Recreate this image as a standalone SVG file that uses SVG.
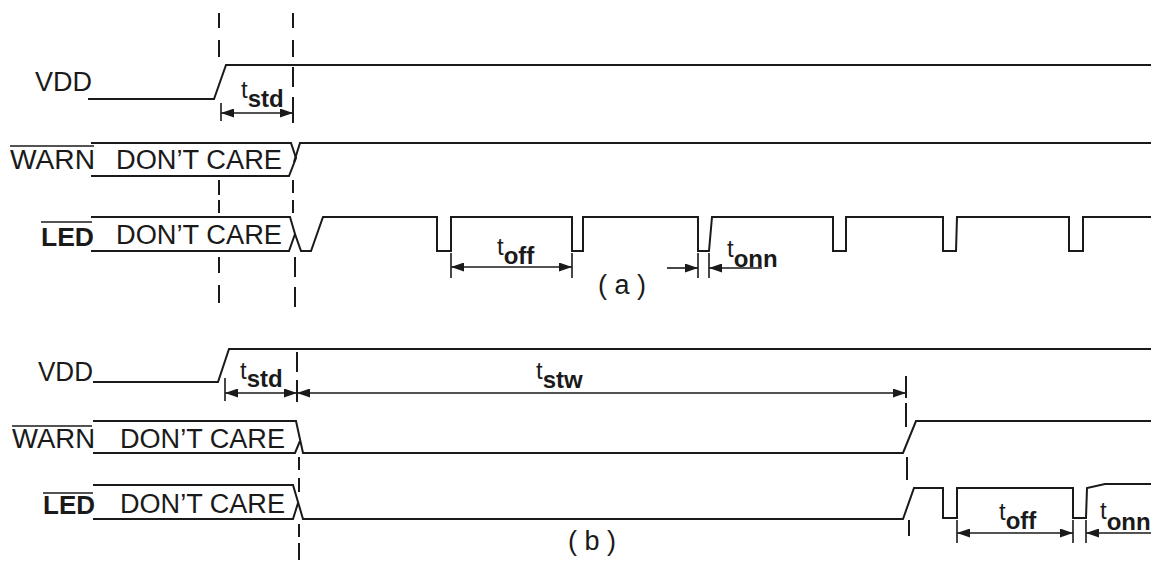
<svg xmlns="http://www.w3.org/2000/svg" width="1151" height="563" viewBox="0 0 1151 563">
<style>
.sig{fill:none;stroke:#1a1a1a;stroke-width:2;stroke-linejoin:miter}
.dim{fill:none;stroke:#1a1a1a;stroke-width:1.6}
.dash{fill:none;stroke:#1a1a1a;stroke-width:2}
.lbl{font-family:"Liberation Sans",Arial,sans-serif;font-size:27px;fill:#1a1a1a}
.led{font-family:"Liberation Sans",Arial,sans-serif;font-size:25px;font-weight:bold;fill:#1a1a1a}
.t{font-family:"Liberation Sans",Arial,sans-serif;font-size:24px;fill:#1a1a1a}
.sub{font-weight:bold}
.ov{stroke:#1a1a1a;stroke-width:1.6}
</style>
<defs>
<marker id="ah" viewBox="0 0 13 9" refX="13" refY="4.5" markerWidth="13" markerHeight="9" markerUnits="userSpaceOnUse" orient="auto-start-reverse">
<path d="M0,0 L13,4.5 L0,9 z" fill="#1a1a1a"/>
</marker>
</defs>
<rect width="1151" height="563" fill="#ffffff"/>

<!-- (a) -->
<g id="vdd-a">
<text class="lbl" x="35" y="91" textLength="57" lengthAdjust="spacingAndGlyphs">VDD</text>
<path class="sig" d="M88,99 H214 L226,65 H1151"/>
</g>
<g id="warn-a">
<text class="lbl" x="10" y="169" textLength="85" lengthAdjust="spacingAndGlyphs">WARN</text>
<line class="ov" x1="10" y1="146" x2="94" y2="146"/>
<path class="sig" d="M91,143 H291 L296,158 L289,176 H91"/>
<text class="lbl" x="116" y="169" textLength="166" lengthAdjust="spacingAndGlyphs">DON’T CARE</text>
<path class="sig" d="M294,162 L300,143 H1151"/>
</g>
<g id="led-a">
<text class="led" x="41" y="246" textLength="53" lengthAdjust="spacingAndGlyphs">LED</text>
<line class="ov" x1="41" y1="222" x2="92" y2="222"/>
<path class="sig" d="M91,217 H290 L295,234 L289,251 H91"/>
<text class="lbl" x="116" y="244" textLength="166" lengthAdjust="spacingAndGlyphs">DON’T CARE</text>
<path class="sig" d="M295,234 L301,251 H311 L323,217 H437 V251 H451 V217 H572 V251 H583 V217 H698 V251 H709 L712,217 H833 V251 H846 V217 H943 V251 H956 L957,217 H1069 V251 H1083 V217 H1151"/>
</g>
<text id="cap-a" class="lbl" x="598" y="294" font-size="26">( a )</text>

<!-- (b) -->
<g id="vdd-b">
<text class="lbl" x="38" y="381" textLength="55" lengthAdjust="spacingAndGlyphs">VDD</text>
<path class="sig" d="M93,382 H218 L229,349 H1151"/>
</g>
<g id="warn-b">
<text class="lbl" x="12" y="448" textLength="83" lengthAdjust="spacingAndGlyphs">WARN</text>
<line class="ov" x1="12" y1="426" x2="92" y2="426"/>
<path class="sig" d="M93,421 H296 L303,453 H903 L916,421 H1151"/>
<path class="sig" d="M93,453 H295 L300,441"/>
<text class="lbl" x="120" y="448" textLength="165" lengthAdjust="spacingAndGlyphs">DON’T CARE</text>
</g>
<g id="led-b">
<text class="led" x="43" y="514" textLength="52" lengthAdjust="spacingAndGlyphs">LED</text>
<line class="ov" x1="43" y1="493" x2="93" y2="493"/>
<path class="sig" d="M93,485 H293 L303,519 H903 L914,488 H943 V518 H957 V488 H1073 V518 H1086 L1087,488 L1105,484 H1151"/>
<path class="sig" d="M93,519 H293 L298,503"/>
<text class="lbl" x="120" y="513" textLength="165" lengthAdjust="spacingAndGlyphs">DON’T CARE</text>
</g>
<text id="cap-b" class="lbl" x="568" y="550" font-size="26">( b )</text>

<g id="connectors">
<!-- dashed reference lines (a) -->
<path class="dash" d="M219,13 V28 M219,40 V57 M219,180 V195 M219,200 V213 M219,257 V273 M219,285 V303"/>
<path class="dash" d="M293,13 V28 M293,40 V57 M293,67 V87 M293,97 V123 M293,180 V193 M293,200 V213 M295,257 V277 M295,287 V307"/>
<!-- dashed reference lines (b) -->
<path class="dash" d="M297,352 V372 M297,380 V402 M299,457 V470 M299,478 V492 M299,524 V537 M299,543 V560"/>
<path class="dash" d="M906,376 V398 M906,403 V427 M907,457 V480 M909,520 V536"/>

<!-- (a) tstd -->
<line class="dim" x1="221" y1="103" x2="221" y2="121"/>
<line class="dim" x1="221" y1="113" x2="293" y2="113" marker-start="url(#ah)" marker-end="url(#ah)"/>
<text class="t" x="241" y="98">t<tspan class="sub" y="107">std</tspan></text>

<!-- (a) toff -->
<line class="dim" x1="451" y1="253" x2="451" y2="278"/>
<line class="dim" x1="572" y1="253" x2="572" y2="278"/>
<line class="dim" x1="451" y1="267" x2="572" y2="267" marker-start="url(#ah)" marker-end="url(#ah)"/>
<text class="t" x="497" y="255">t<tspan class="sub" y="264">off</tspan></text>

<!-- (a) tonn -->
<line class="dim" x1="698" y1="253" x2="698" y2="278"/>
<line class="dim" x1="709" y1="253" x2="709" y2="278"/>
<line class="dim" x1="667" y1="268" x2="698" y2="268" marker-end="url(#ah)"/>
<line class="dim" x1="762" y1="268" x2="709" y2="268" marker-end="url(#ah)"/>
<text class="t" x="727" y="257">t<tspan class="sub" y="267">onn</tspan></text>

<!-- (b) tstd / tstw -->
<line class="dim" x1="225" y1="378" x2="225" y2="401"/>
<line class="dim" x1="225" y1="393" x2="297" y2="393" marker-start="url(#ah)" marker-end="url(#ah)"/>
<text class="t" x="240" y="379">t<tspan class="sub" y="387">std</tspan></text>
<line class="dim" x1="297" y1="393" x2="906" y2="393" marker-start="url(#ah)" marker-end="url(#ah)"/>
<text class="t" x="536" y="379">t<tspan class="sub" y="388">stw</tspan></text>

<!-- (b) toff -->
<line class="dim" x1="957" y1="520" x2="957" y2="543"/>
<line class="dim" x1="1073" y1="520" x2="1073" y2="543"/>
<line class="dim" x1="957" y1="533" x2="1073" y2="533" marker-start="url(#ah)" marker-end="url(#ah)"/>
<text class="t" x="999" y="520">t<tspan class="sub" y="529">off</tspan></text>

<!-- (b) tonn -->
<line class="dim" x1="1086" y1="520" x2="1086" y2="543"/>
<line class="dim" x1="1151" y1="533" x2="1086" y2="533" marker-end="url(#ah)"/>
<text class="t" x="1100" y="519">t<tspan class="sub" y="530">onn</tspan></text>
</g>
</svg>
